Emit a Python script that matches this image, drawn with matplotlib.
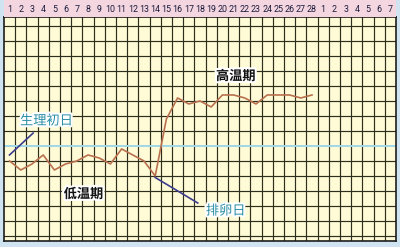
import matplotlib.pyplot as plt
import matplotlib.patheffects as pe

# 基础体温（28天周期）
days = list(range(1, 29))
temps = [36.45, 36.42, 36.44, 36.47, 36.42, 36.44, 36.45, 36.47, 36.46, 36.44,
         36.49, 36.47, 36.45, 36.40, 36.59, 36.66, 36.64, 36.65, 36.63, 36.67,
         36.67, 36.66, 36.64, 36.67, 36.67, 36.67, 36.66, 36.67]
# 表头的日期编号：本周期28天 + 下一周期7天
header_labels = [str(d) for d in range(1, 29)] + [str(d) for d in range(1, 8)]
cover_temp = 36.50
grid_temps = [round(36.20 + 0.05 * i, 2) for i in range(15)]

n_cols = len(header_labels)
y_lo, y_hi = 36.1833, 36.93

fig = plt.figure(figsize=(4.0, 2.47), dpi=100)
fig.patch.set_facecolor("#cfe3f1")

# 主图区域
ax = fig.add_axes([0.01, 0.0243, 0.98, 0.907])
ax.set_facecolor("#fffbd6")
ax.set_xlim(0.5, n_cols + 0.5)
ax.set_ylim(y_lo, y_hi)
for k in range(1, n_cols):
    ax.axvline(k + 0.5, color="#2e2e1e", lw=0.85, zorder=1)
for t in grid_temps:
    if abs(t - cover_temp) > 1e-6:
        ax.axhline(t, color="#2e2e1e", lw=0.85, zorder=1)
ax.axhline(cover_temp, color="#9fd8ea", lw=1.4, zorder=2)
ax.set_xticks([])
ax.set_yticks([])
for s in ax.spines.values():
    s.set_color("#1e1e1e")
    s.set_linewidth(1.2)

# 体温曲线
ax.plot(days, temps, color="#b8704e", lw=1.2, zorder=3)

halo = [pe.withStroke(linewidth=3, foreground="white")]
cjk = ["Noto Sans CJK SC", "DejaVu Sans"]

# 生理初日
ax.plot([0.99, 3.1], [36.47, 36.543], color="#3c3c8c", lw=1.2, zorder=4)
ax.text(4.3, 36.583, "生理初日", family=cjk, fontsize=9.5, color="#2a8ea6",
        ha="center", va="center", path_effects=halo, zorder=5)

# 排卵日
ax.plot([14.0, 17.8], [36.395, 36.31], color="#3c3c8c", lw=1.2, zorder=4)
ax.text(20.3, 36.283, "排卵日", family=cjk, fontsize=9.5, color="#2a8ea6",
        ha="center", va="center", path_effects=halo, zorder=5)

# 高温期 / 低温期
ax.text(21.2, 36.733, "高温期", family=cjk, fontsize=9.5, color="#111111",
        fontweight="bold", ha="center", va="center", path_effects=halo, zorder=5)
ax.text(7.6, 36.34, "低温期", family=cjk, fontsize=9.5, color="#111111",
        fontweight="bold", ha="center", va="center", path_effects=halo, zorder=5)

# 表头
hax = fig.add_axes([0.01, 0.931, 0.98, 0.069])
hax.set_facecolor("#f4d6e0")
hax.set_xlim(0.5, n_cols + 0.5)
hax.set_ylim(0, 1)
hax.set_xticks([])
hax.set_yticks([])
for s in hax.spines.values():
    s.set_visible(False)
for i, lab in enumerate(header_labels):
    hax.text(i + 1, 0.42, lab, family="Roboto", fontsize=6.4,
             color="#1c1c3c", ha="center", va="center")

fig.savefig("out.png", dpi=100, facecolor=fig.get_facecolor())
